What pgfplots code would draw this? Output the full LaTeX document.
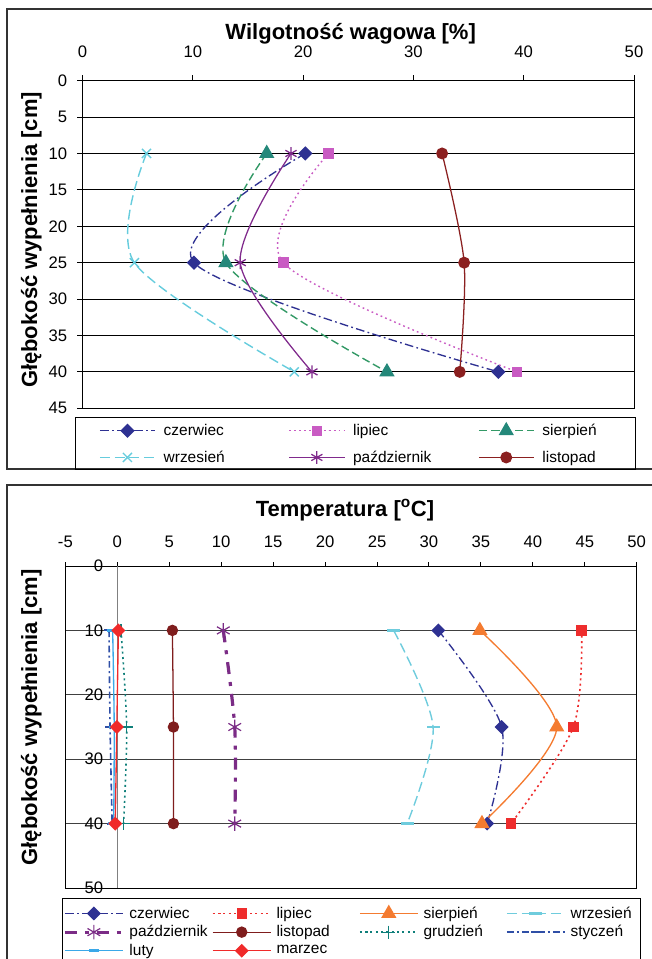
\documentclass[border=0pt]{standalone}
\usepackage{fontspec}
\setmainfont{Liberation Sans}
\usepackage{pgfplots}
\pgfplotsset{compat=1.18}

% top chart colours
\definecolor{cze}{HTML}{2E3192}
\definecolor{lip}{HTML}{C95BC3}
\definecolor{sie}{HTML}{339966}
\definecolor{sieM}{HTML}{24887A}
\definecolor{wrz}{HTML}{66CCDD}
\definecolor{paz}{HTML}{802A8C}
\definecolor{lis}{HTML}{8B2020}
% bottom chart colours
\definecolor{lipB}{HTML}{EE2D2D}
\definecolor{sieB}{HTML}{F47B30}
\definecolor{wrzB}{HTML}{6FCCDD}
\definecolor{pazB}{HTML}{7B2C86}
\definecolor{lisB}{HTML}{7F1D1D}
\definecolor{gruB}{HTML}{0F7F7A}
\definecolor{styB}{HTML}{2F4FA6}
\definecolor{lutB}{HTML}{3AA8E8}
\definecolor{marB}{HTML}{F02A2A}
\definecolor{frame}{HTML}{333333}

\newcommand\ticks{\fontsize{12.5}{14}\selectfont}
\newcommand\legf{\fontsize{11.6}{13}\selectfont}
\newcommand\ttl{\bfseries\fontsize{16.5}{18}\selectfont}

\begin{document}
\begin{tikzpicture}
\useasboundingbox (0pt,0pt) rectangle (489pt,-719.25pt);

% outer frames and legend boxes
\draw[line width=1.5pt,frame] (5.25pt,-7.1pt) rectangle (530pt,-351.75pt);
\draw[line width=1.5pt,frame] (5.25pt,-363.75pt) rectangle (530pt,-800pt);
\draw[line width=0.75pt,black] (56.25pt,-312.75pt) rectangle (476.25pt,-351.75pt);
\draw[line width=0.75pt,black] (46.5pt,-673.5pt) rectangle (480pt,-760pt);

% titles
\node[anchor=base] at (263pt,-29.5pt) {\ttl Wilgotność wagowa [\%]};
\node[anchor=base] at (258.75pt,-387pt) {\ttl Temperatura [\textsuperscript{o}C]};
\node[anchor=base,rotate=90] at (27.75pt,-180pt) {\ttl Głębokość wypełnienia [cm]};
\node[anchor=base,rotate=90] at (27.75pt,-538pt) {\ttl Głębokość wypełnienia [cm]};

%% ---------------- moisture ----------------
\begin{axis}[
  at={(61.9pt,-60.5pt)}, anchor=north west,
  scale only axis, width=413.6pt, height=245.7pt,
  xmin=0, xmax=50, ymin=0, ymax=45, y dir=reverse,
  xtick={0,10,...,50}, ytick={0,5,...,45},
  xtick pos=right, xticklabel pos=right, ytick pos=left,
  tick align=outside, major tick length=4pt,
  tick style={black,line width=0.75pt},
  axis line style={black,line width=0.75pt},
  ymajorgrids, major grid style={black,line width=0.75pt},
  ticklabel style={font=\ticks},
  xticklabel style={yshift=10pt},
  yticklabel style={xshift=-4pt},
  /pgf/number format/assume math mode=true,
  legend columns=3,
  legend style={at={(0.0299,-0.045)}, anchor=north west, draw=none, fill=none,
    inner sep=0pt, row sep=10pt, column sep=0pt, font=\legf,
    nodes={inner sep=0pt}, cells={anchor=west}},
  legend image code/.code={\draw[mark repeat=2,mark phase=2,#1]
    plot coordinates {(0pt,0pt) (20.6pt,0pt) (41.25pt,0pt)};},
]
\addplot[color=cze, line width=1pt, dash pattern=on 6.5pt off 2.5pt on 1.3pt off 2.5pt,
  smooth, mark=square*, mark size=3.3pt, mark options={solid,rotate=45}]
  coordinates {(20.2,10) (10.1,25) (37.7,40)};
\addlegendentry{\makebox[99.75pt][l]{\hspace{6pt}czerwiec}}
\addplot[color=lip, line width=1.05pt, dash pattern=on 1.3pt off 2.4pt,
  smooth, mark=square*, mark size=3.4pt, mark options={solid}]
  coordinates {(22.3,10) (18.2,25) (39.4,40)};
\addlegendentry{\makebox[99.75pt][l]{\hspace{6pt}lipiec}}
\addplot[color=sie, line width=1.05pt, dash pattern=on 6pt off 3pt,
  smooth, mark=triangle*, mark size=5.6pt, mark options={solid,draw=sieM,fill=sieM}]
  coordinates {(16.7,10) (13.0,25) (27.6,40)};
\addlegendentry{\makebox[99.75pt][l]{\hspace{6pt}sierpień}}
\addplot[color=wrz, line width=1.05pt, dash pattern=on 7.5pt off 3.5pt,
  smooth, mark=x, mark size=4.8pt, mark options={solid}]
  coordinates {(5.8,10) (4.7,25) (19.2,40)};
\addlegendentry{\makebox[99.75pt][l]{\hspace{6pt}wrzesień}}
\addplot[color=paz, line width=0.95pt,
  smooth, mark=asterisk, mark size=4.8pt]
  coordinates {(18.9,10) (14.3,25) (20.8,40)};
\addlegendentry{\makebox[99.75pt][l]{\hspace{6pt}październik}}
\addplot[color=lis, line width=0.95pt,
  smooth, mark=*, mark size=4pt]
  coordinates {(32.6,10) (34.6,25) (34.2,40)};
\addlegendentry{\makebox[99.75pt][l]{\hspace{6pt}listopad}}
\end{axis}

%% ---------------- temperature ----------------
\begin{axis}[
  at={(49.05pt,-424.5pt)}, anchor=north west,
  scale only axis, width=428.5pt, height=241.5pt,
  xmin=-5, xmax=50, ymin=0, ymax=50, y dir=reverse,
  xtick={-5,0,...,50}, ytick={0,10,...,50},
  xtick pos=right, xticklabel pos=right, ytick pos=left,
  tick align=outside, major tick length=3pt,
  tick style={black,line width=0.75pt},
  ytick style={draw=none},
  axis line style={black,line width=0.75pt},
  ymajorgrids, major grid style={black!75,line width=0.75pt},
  extra x ticks={0}, extra x tick labels={},
  extra x tick style={grid=major, major grid style={gray,line width=0.6pt}, tick style={draw=none}},
  ticklabel style={font=\ticks},
  xticklabel style={yshift=7pt},
  yticklabel style={inner sep=0pt, xshift=31.5pt},
  /pgf/number format/assume math mode=true,
  legend columns=4,
  legend style={at={(-0.0042,-0.055)}, anchor=north west, draw=none, fill=none,
    inner sep=0pt, row sep=3.5pt, column sep=0pt, font=\legf,
    nodes={inner sep=0pt}, cells={anchor=west}},
  legend image code/.code={\draw[mark repeat=2,mark phase=2,#1]
    plot coordinates {(0pt,0pt) (21.75pt,0pt) (43.5pt,0pt)};},
]
\addplot[color=cze, line width=1pt, dash pattern=on 6.5pt off 2.5pt on 1.3pt off 2.5pt,
  smooth, mark=square*, mark size=3.2pt, mark options={solid,rotate=45}]
  coordinates {(30.9,10) (37.0,25) (35.6,40)};
\addlegendentry{\makebox[65.6pt][l]{\hspace{3.75pt}czerwiec}}
\addplot[color=lipB, line width=1.2pt, dash pattern=on 1.5pt off 2.5pt,
  smooth, mark=square*, mark size=3.3pt, mark options={solid}]
  coordinates {(44.7,10) (43.9,25) (37.9,40)};
\addlegendentry{\makebox[65.6pt][l]{\hspace{3.75pt}lipiec}}
\addplot[color=sieB, line width=1pt,
  smooth, mark=triangle*, mark size=5.6pt]
  coordinates {(34.9,10) (42.3,25) (35.1,40)};
\addlegendentry{\makebox[65.6pt][l]{\hspace{3.75pt}sierpień}}
\addplot[color=wrzB, line width=1.05pt, dash pattern=on 7.5pt off 3.5pt,
  smooth, mark=-, mark size=4.8pt, mark options={solid,line width=2pt}]
  coordinates {(26.6,10) (30.4,25) (27.9,40)};
\addlegendentry{\makebox[65.6pt][l]{\hspace{3.75pt}wrzesień}}
\addplot[color=pazB, line width=2.4pt, dash pattern=on 9pt off 6pt on 3pt off 6pt,
  smooth, mark=asterisk, mark size=5.5pt, mark options={solid,line width=0.9pt}]
  coordinates {(10.2,10) (11.3,25) (11.3,40)};
\addlegendentry{\makebox[65.6pt][l]{\hspace{3.75pt}październik}}
\addplot[color=lisB, line width=0.95pt,
  smooth, mark=*, mark size=3.8pt]
  coordinates {(5.3,10) (5.4,25) (5.4,40)};
\addlegendentry{\makebox[65.6pt][l]{\hspace{3.75pt}listopad}}
\addplot[color=gruB, line width=1.2pt, dash pattern=on 1.5pt off 2.5pt,
  smooth, mark=+, mark size=4.8pt, mark options={solid,line width=0.8pt}]
  coordinates {(0.35,10) (0.9,25) (0.6,40)};
\addlegendentry{\makebox[65.6pt][l]{\hspace{3.75pt}grudzień}}
\addplot[color=styB, line width=1.2pt, dash pattern=on 5pt off 2.5pt on 1.5pt off 2.5pt,
  smooth, mark=-, mark size=3.5pt, mark options={solid,line width=1.5pt}]
  coordinates {(-0.8,10) (-0.7,25) (-0.5,40)};
\addlegendentry{\makebox[65.6pt][l]{\hspace{3.75pt}styczeń}}
\addplot[color=lutB, line width=1pt,
  smooth, mark=-, mark size=4pt, mark options={solid,line width=2pt}]
  coordinates {(-0.45,10) (-0.3,25) (-0.35,40)};
\addlegendentry{\makebox[65.6pt][l]{\hspace{3.75pt}luty}}
\addplot[color=marB, line width=1pt,
  smooth, mark=square*, mark size=3.2pt, mark options={solid,rotate=45}]
  coordinates {(0.1,10) (-0.05,25) (-0.2,40)};
\addlegendentry{\makebox[65.6pt][l]{\hspace{3.75pt}marzec}}
\end{axis}
\end{tikzpicture}
\end{document}
